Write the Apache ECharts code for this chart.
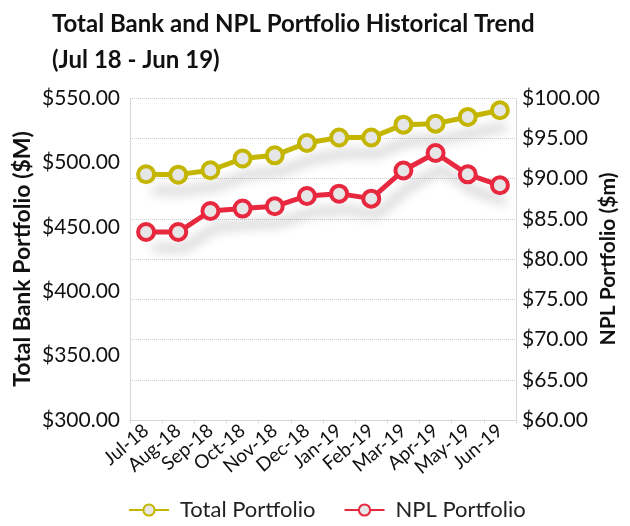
<!DOCTYPE html>
<html><head><meta charset="utf-8">
<script src="https://cdn.jsdelivr.net/npm/echarts@6/dist/echarts.min.js"></script>
<style>html,body{margin:0;padding:0;background:#fff}#c{width:630px;height:526px}</style>
</head><body><div id="c"></div>
<script>
const categories = ["Jul-18","Aug-18","Sep-18","Oct-18","Nov-18","Dec-18","Jan-19","Feb-19","Mar-19","Apr-19","May-19","Jun-19"];
const totalPortfolio = [490.8, 490.5, 493.9, 503.0, 505.5, 515.1, 519.3, 519.3, 529.3, 530.1, 535.3, 540.5];
const nplPortfolio = [83.35, 83.35, 85.96, 86.26, 86.55, 87.83, 88.12, 87.5, 91.0, 93.17, 90.52, 89.16];
const seriesNames = ["Total Portfolio", "NPL Portfolio"];
const titleLines = ["Total Bank and NPL Portfolio Historical Trend", "(Jul 18 - Jun 19)"];
const leftAxisName = "Total Bank Portfolio ($M)";
const rightAxisName = "NPL Portfolio ($m)";

const FONT = "Lato";
const chart = echarts.init(document.getElementById('c'), null, {renderer: 'canvas'});
const fmt = v => '$' + v.toFixed(2);
const lineShadow = {shadowColor: 'rgba(0,0,0,0.28)', shadowBlur: 12, shadowOffsetX: 6, shadowOffsetY: 16};
chart.setOption({
  animation: false,
  textStyle: {fontFamily: FONT},
  title: {
    text: titleLines.join('\n'),
    left: 47, top: 1,
    textStyle: {fontFamily: FONT, fontWeight: 'bold', fontSize: 24, color: '#111', lineHeight: 36}
  },
  legend: {
    top: 499, left: 128, padding: 0,
    itemWidth: 40, itemHeight: 14, itemGap: 28,
    textStyle: {fontFamily: FONT, fontSize: 22, color: '#222', padding: [0, 0, 0, 6]},
    data: seriesNames
  },
  grid: {left: 130, right: 114, top: 98, bottom: 106, containLabel: false, outerBoundsMode: 'none'},
  xAxis: {
    type: 'category', data: categories, boundaryGap: true,
    axisLine: {show: true, lineStyle: {color: '#ccc', type: 'dotted'}},
    axisTick: {show: true, length: 4, lineStyle: {color: '#bbb', type: 'dotted'}},
    axisLabel: {rotate: 40, fontSize: 19, color: '#111', margin: 8, interval: 0, fontFamily: FONT}
  },
  yAxis: [
    {
      type: 'value', min: 300, max: 550, interval: 50, position: 'left',
      name: leftAxisName, nameLocation: 'middle', nameGap: 96, nameRotate: 90, nameMoveOverlap: false,
      nameTextStyle: {fontFamily: FONT, fontWeight: 'bold', fontSize: 23, color: '#111'},
      axisLine: {show: true, lineStyle: {color: '#ccc', type: 'dotted'}},
      axisTick: {show: false},
      axisLabel: {formatter: fmt, fontSize: 21, color: '#111', margin: 10, fontFamily: FONT},
      splitLine: {show: false}
    },
    {
      type: 'value', min: 60, max: 100, interval: 5, position: 'right',
      name: rightAxisName, nameLocation: 'middle', nameGap: 82, nameRotate: 90, nameMoveOverlap: false,
      nameTextStyle: {fontFamily: FONT, fontWeight: 'bold', fontSize: 21, color: '#111'},
      axisLine: {show: true, lineStyle: {color: '#ccc', type: 'dotted'}},
      axisTick: {show: false},
      axisLabel: {formatter: fmt, fontSize: 21, color: '#111', margin: 6, fontFamily: FONT},
      splitLine: {show: true, lineStyle: {color: '#ccc', type: 'dotted'}}
    }
  ],
  series: [
    {
      name: seriesNames[0], type: 'line', yAxisIndex: 0, data: totalPortfolio,
      symbol: 'circle', symbolSize: 16,
      lineStyle: Object.assign({color: '#c4b600', width: 5}, lineShadow),
      itemStyle: {color: '#e6e6e6', borderColor: '#c4b600', borderWidth: 4}
    },
    {
      name: seriesNames[1], type: 'line', yAxisIndex: 1, data: nplPortfolio,
      symbol: 'circle', symbolSize: 16,
      lineStyle: Object.assign({color: '#e8283f', width: 5}, lineShadow),
      itemStyle: {color: '#e6e6e6', borderColor: '#e8283f', borderWidth: 4}
    }
  ]
});
</script></body></html>
